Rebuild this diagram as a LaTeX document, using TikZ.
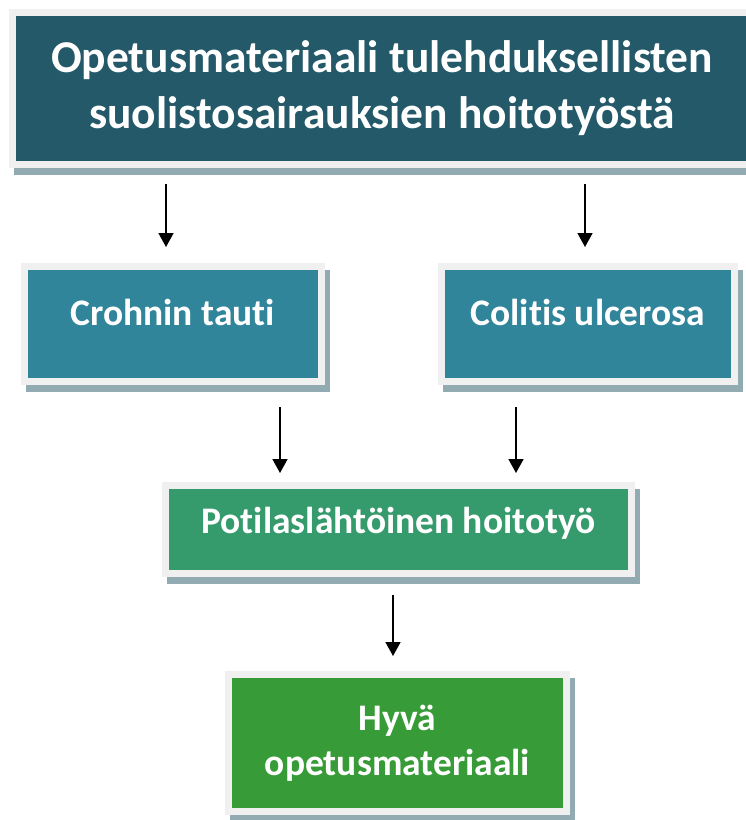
\documentclass[tikz,border=0pt]{standalone}
\usepackage{fontspec}
\setmainfont{Carlito}[Ligatures=NoCommon]
\usetikzlibrary{arrows.meta}
\definecolor{titlec}{HTML}{235968}
\definecolor{tealc}{HTML}{31859B}
\definecolor{careg}{HTML}{369B6C}
\definecolor{goodg}{HTML}{379B37}
\definecolor{framec}{HTML}{F0F0F0}
\definecolor{shadowc}{HTML}{92ABB3}
\tikzset{
	box/.style={rectangle, inner sep=0pt, draw=framec, line width=7pt, text=white, align=center,
		font=\fontsize{37.5}{45}\selectfont\bfseries,
		preaction={draw=shadowc, fill=shadowc, transform canvas={shift={(5pt,-7pt)}}}},
	onerow/.style={text height=22pt, text depth=18pt},
	arr/.style={line width=1.6pt, -{Triangle[length=14pt,width=15pt]}}
}
\begin{document}
\begin{tikzpicture}[x=1pt,y=-1pt]
			\useasboundingbox (0,0) rectangle (745,820);
			\node [box, fill=titlec, minimum width=739pt, minimum height=152pt, font=\fontsize{45.5}{56}\selectfont\bfseries] (title) at (382,88.5) {Opetusmateriaali tulehduksellisten\\suolistosairauksien hoitotyöstä};
			\node [box, onerow, fill=tealc, minimum width=297.5pt, minimum height=115pt] (crohn) at (172.75,323.5) {Crohnin tauti};
			\node [box, onerow, fill=tealc, minimum width=293pt, minimum height=115pt] (colitis) at (588,323.5) {Colitis ulcerosa};
			\node [box, fill=careg, minimum width=466pt, minimum height=88pt, text height=24pt, text depth=16pt] (care) at (398.5,529.5) {Potilaslähtöinen hoitotyö};
			\node [box, fill=goodg, minimum width=338pt, minimum height=137pt] (good) at (397.5,743) {Hyvä\\opetusmateriaali};
			\coordinate (t1) at (166,184);
			\coordinate (c1) at (166,247);
			\coordinate (t2) at (585,184);
			\coordinate (c2) at (585,247);
			\coordinate (c3) at (280,407);
			\coordinate (p1) at (280,473);
			\coordinate (c4) at (516,407);
			\coordinate (p2) at (516,473);
			\coordinate (p3) at (393,595);
			\coordinate (g1) at (393,656);
			\draw [arr] (t1) -- (c1);
			\draw [arr] (t2) -- (c2);
			\draw [arr] (c3) -- (p1);
			\draw [arr] (c4) -- (p2);
			\draw [arr] (p3) -- (g1);
		\end{tikzpicture}
\end{document}
